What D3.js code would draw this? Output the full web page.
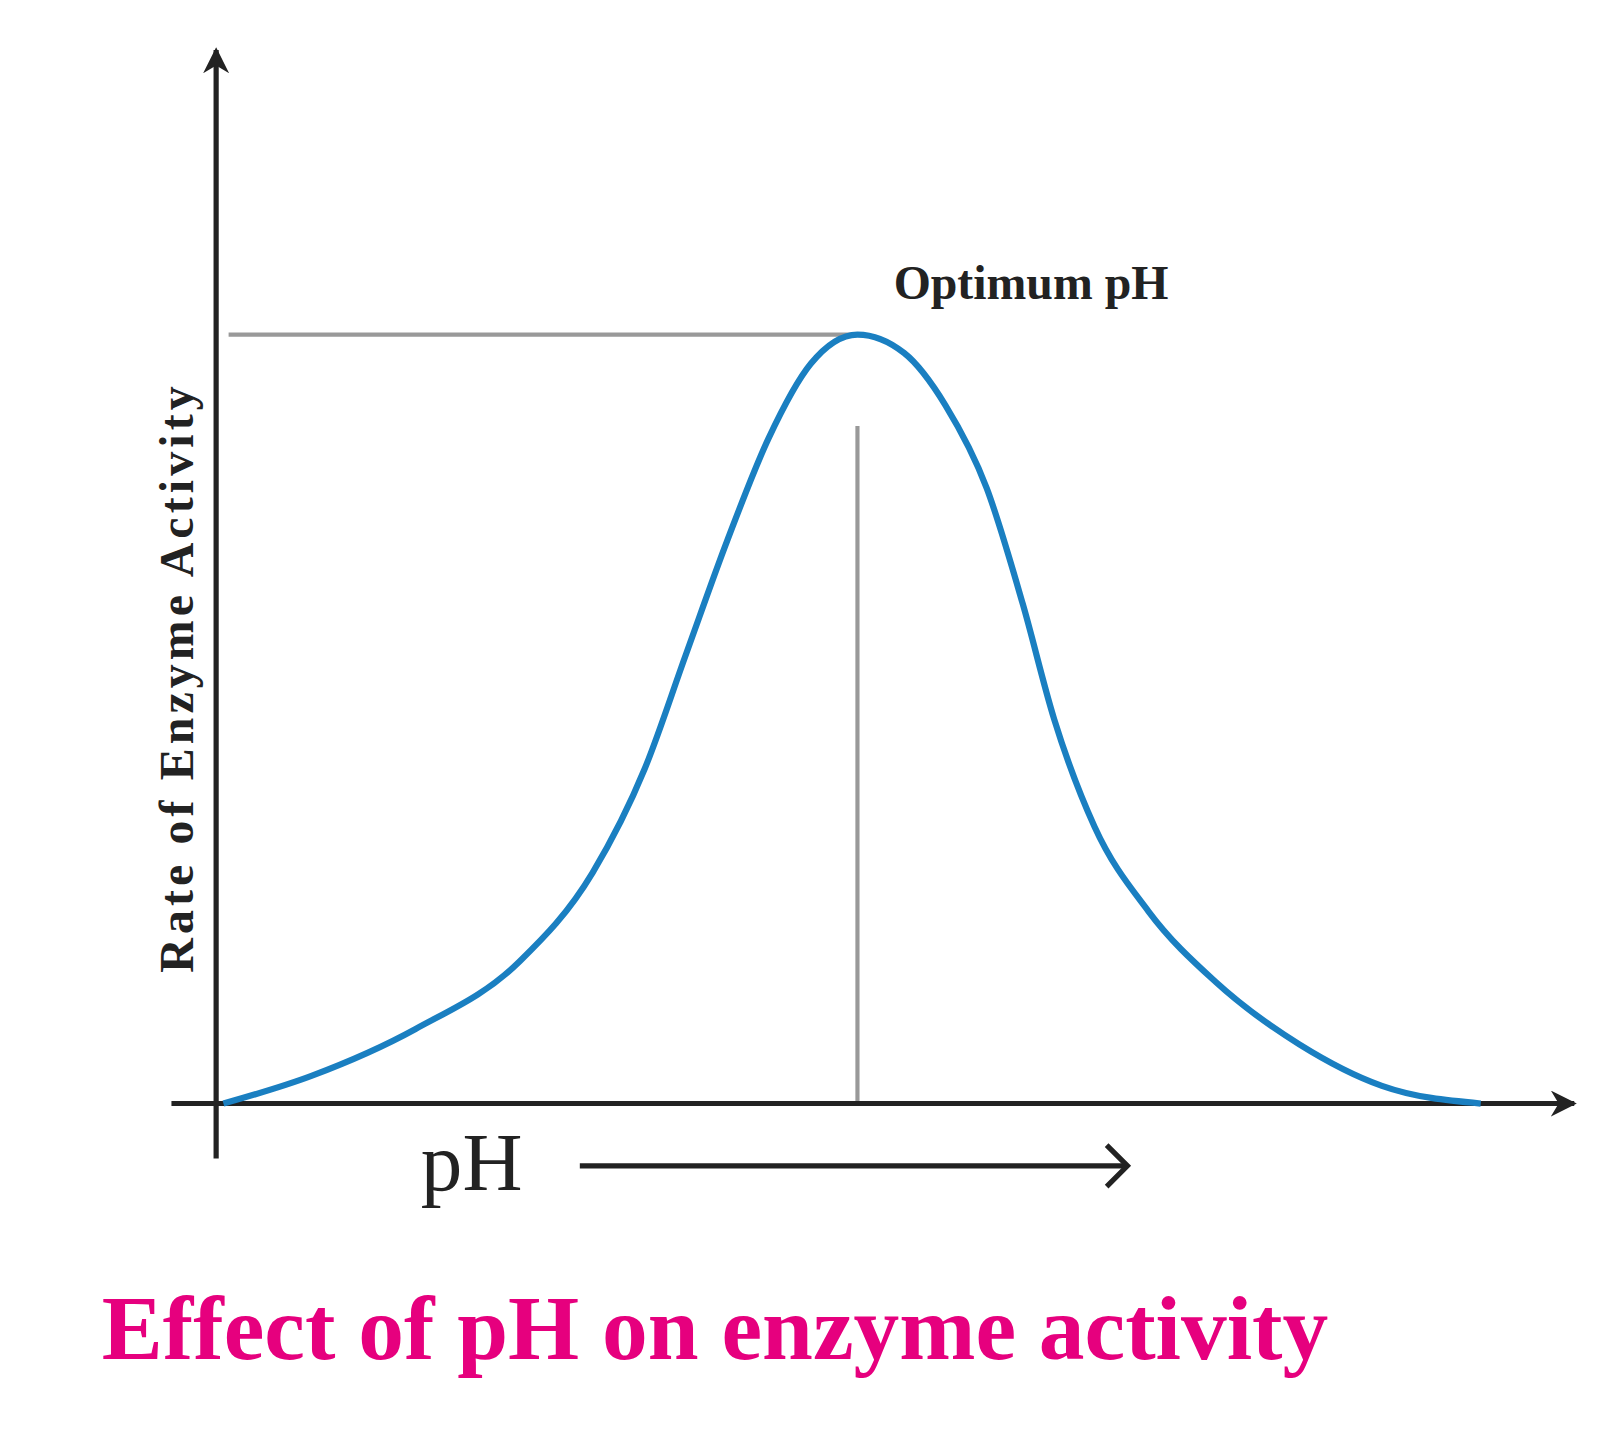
<!DOCTYPE html>
<html><head><meta charset="utf-8">
<script src="https://cdn.jsdelivr.net/npm/d3@7"></script>
<style>body{margin:0;background:#fff}</style>
</head><body><svg width="1621" height="1441"></svg>
<script>
const data = [
  [0,0],[0.98,0.036],[2.14,0.097],[3.30,0.185],[4.11,0.30],[4.69,0.435],[5.15,0.584],
  [5.61,0.732],[6.07,0.865],[6.54,0.962],[7.06,1],[7.58,0.976],[8.04,0.908],[8.50,0.80],
  [8.90,0.65],[9.25,0.50],[9.70,0.36],[10.30,0.25],[11.05,0.158],[11.98,0.077],
  [12.90,0.023],[14,0]
].map(d => ({ ph: d[0], rate: d[1] }));

const k = 1621 / 1560;
const svg = d3.select("svg");
const g = svg.append("g").attr("transform", `scale(${k})`);
const x = d3.scaleLinear().domain([0, 14]).range([215, 1425]);
const y = d3.scaleLinear().domain([0, 1]).range([1062, 322]);
const opt = 7.06;

svg.append("defs").append("marker").attr("id", "ah")
  .attr("viewBox", "0 0 10 10").attr("refX", 9).attr("refY", 5)
  .attr("markerWidth", 5).attr("markerHeight", 5).attr("orient", "auto")
  .append("path").attr("d", "M0,0L10,5L0,10L3,5Z").attr("fill", "#222");

// guide lines
g.append("line").attr("x1", 220).attr("x2", x(opt)).attr("y1", y(1)).attr("y2", y(1))
  .attr("stroke", "#999").attr("stroke-width", 4);
g.append("line").attr("x1", x(opt)).attr("x2", x(opt)).attr("y1", 410).attr("y2", y(0))
  .attr("stroke", "#999").attr("stroke-width", 4);

// axes
g.append("line").attr("x1", 208).attr("x2", 208).attr("y1", 1115).attr("y2", 48)
  .attr("stroke", "#222").attr("stroke-width", 5).attr("marker-end", "url(#ah)");
g.append("line").attr("x1", 165).attr("x2", 1515).attr("y1", y(0)).attr("y2", y(0))
  .attr("stroke", "#222").attr("stroke-width", 5).attr("marker-end", "url(#ah)");

g.append("path").datum(data)
  .attr("d", d3.line().x(d => x(d.ph)).y(d => y(d.rate)).curve(d3.curveMonotoneX))
  .attr("fill", "none").attr("stroke", "#1a7fc1").attr("stroke-width", 6);

g.append("text").attr("x", 860).attr("y", 288)
  .attr("font-family", "Liberation Serif").attr("font-weight", "bold").attr("font-size", 46)
  .attr("fill", "#222").text("Optimum pH");

g.append("text").attr("transform", "translate(186,652) rotate(-90)")
  .attr("text-anchor", "middle").attr("font-family", "Liberation Serif")
  .attr("font-weight", "bold").attr("font-size", 46).attr("letter-spacing", 4).attr("fill", "#222")
  .text("Rate of Enzyme Activity");

g.append("text").attr("x", 405).attr("y", 1145)
  .attr("font-family", "Liberation Serif").attr("font-size", 80).attr("fill", "#222").text("pH");

g.append("polyline").attr("points", "558,1122 1085,1122")
  .attr("stroke", "#222").attr("stroke-width", 5).attr("fill", "none");
g.append("polyline").attr("points", "1065,1102 1085,1122 1065,1142")
  .attr("stroke", "#222").attr("stroke-width", 5).attr("fill", "none");

g.append("text").attr("x", 98).attr("y", 1308)
  .attr("font-family", "Liberation Serif").attr("font-weight", "bold").attr("font-size", 88)
  .attr("fill", "#e6007e").text("Effect of pH on enzyme activity");
</script></body></html>
